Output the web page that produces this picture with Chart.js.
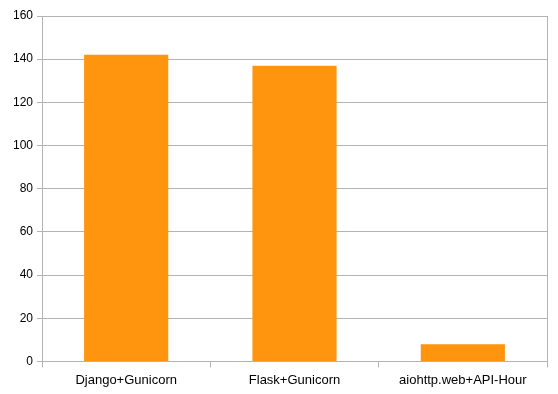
<!DOCTYPE html>
<html>
<head>
<meta charset="utf-8">
<script src="https://cdn.jsdelivr.net/npm/chart.js@4"></script>
<style>
  html, body { margin: 0; padding: 0; background: #fff; }
  #wrap { width: 558px; height: 394px; }
</style>
</head>
<body>
<div id="wrap"><canvas id="benchChart"></canvas></div>
<script>
const categories = ['Django+Gunicorn', 'Flask+Gunicorn', 'aiohttp.web+API-Hour'];
const requests = [142, 137, 8];
const yTicks = [0, 20, 40, 60, 80, 100, 120, 140, 160];

const gridGrey = '#b3b3b3';

window.addEventListener('DOMContentLoaded', () => {
  const ctx = document.getElementById('benchChart');
  new Chart(ctx, {
    type: 'bar',
    data: {
      labels: categories,
      datasets: [{
        data: requests,
        backgroundColor: '#ff950e',
        barPercentage: 0.5,
        categoryPercentage: 1.0
      }]
    },
    options: {
      responsive: true,
      maintainAspectRatio: false,
      animation: false,
      layout: { padding: { top: 16, right: 11, left: 9, bottom: 1 } },
      plugins: {
        legend: { display: false },
        tooltip: { enabled: false }
      },
      scales: {
        x: {
          grid: {
            offset: true,
            drawOnChartArea: false,
            color: gridGrey,
            tickLength: 6
          },
          border: { color: gridGrey },
          ticks: { color: '#000', font: { family: 'Liberation Sans', size: 13 }, padding: 5 }
        },
        y: {
          min: 0,
          max: 160,
          afterBuildTicks: (axis) => { axis.ticks = yTicks.map(v => ({ value: v })); },
          grid: { color: gridGrey, tickLength: 5 },
          border: { color: gridGrey },
          ticks: { color: '#000', font: { family: 'Liberation Sans', size: 12 }, padding: 4 }
        },
        y2: {
          position: 'right',
          min: 0,
          max: 160,
          grid: { drawOnChartArea: false, drawTicks: false },
          border: { color: gridGrey },
          ticks: { display: false }
        }
      }
    }
  });
});
</script>
</body>
</html>
